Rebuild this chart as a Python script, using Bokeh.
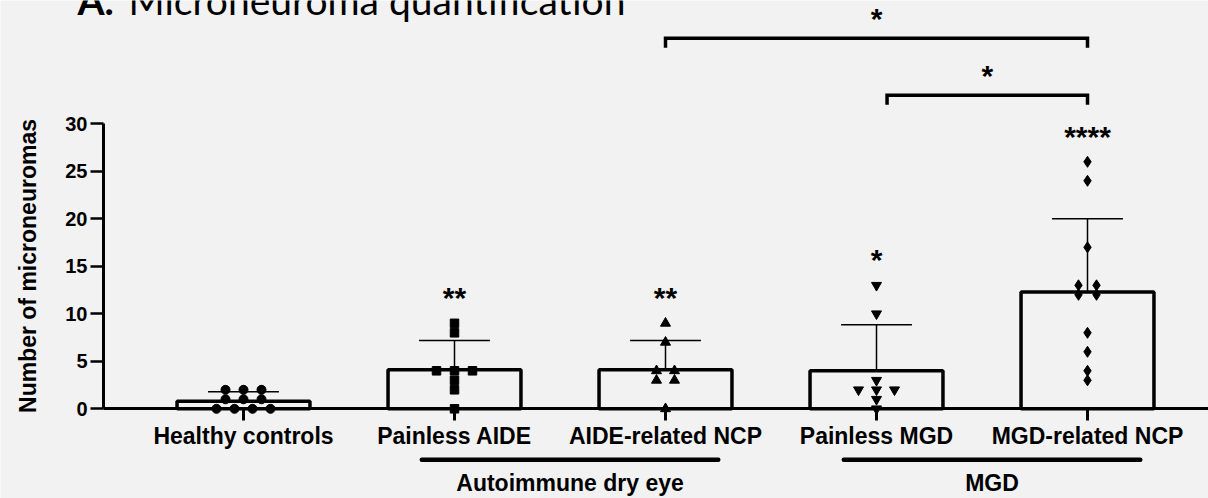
from bokeh.plotting import figure
from bokeh.models import FixedTicker, Label, GlobalInlineStyleSheet
from bokeh.embed import file_html
from bokeh.resources import INLINE
from bokeh.core.properties import value

# ---------------- data ----------------
categories = ["Healthy controls", "Painless AIDE", "AIDE-related NCP",
              "Painless MGD", "MGD-related NCP"]
means = [0.8, 4.1, 4.1, 4.0, 12.3]
sd = [1.0, 3.1, 3.1, 4.85, 7.7]
healthy_controls = [2, 2, 2, 1, 1, 1, 0, 0, 0, 0]
painless_aide = [9, 8, 4, 4, 4, 3, 2, 0]
aide_related_ncp = [9, 7, 4, 4, 3, 3, 0]
painless_mgd = [13, 10, 3, 2, 2, 2, 1, 0]
mgd_related_ncp = [26, 24, 17, 13, 13, 12, 12, 8, 6, 4, 3]
points = [healthy_controls, painless_aide, aide_related_ncp, painless_mgd, mgd_related_ncp]
markers = ["circle", "square", "triangle", "inverted_triangle", "diamond"]
stars = ["", "**", "**", "*", "****"]
groups = ["Autoimmune dry eye", "MGD"]
group_members = [[2, 3], [4, 5]]
comparisons = [(3, 5, "*"), (4, 5, "*")]
y_ticks = [0, 5, 10, 15, 20, 25, 30]

# ---------------- layout constants (pixels) ----------------
W, H = 1208, 498
X0_PX, DX_PX = 243.0, 211.0        # pixel of category 1, category spacing
Y0_PX, PPU = 408.3, 9.5            # pixel of y=0, pixels per unit
AXIS_X_PX = 103                     # pixel of the y axis line


def px_x(px):
    return 1 + (px - X0_PX) / DX_PX


def px_y(py):
    return (Y0_PX - py) / PPU


BASE_SHIFT = 0.45                   # text anchor to baseline offset (em)

x_start, x_end = px_x(0), px_x(W)
y_start, y_end = px_y(H), px_y(0)

BG = "#f2f2f2"
FONT = "Liberation Sans"
LABEL_FS = 23

p = figure(width=W, height=H, x_range=(x_start, x_end), y_range=(y_start, y_end),
           output_backend="svg", toolbar_location=None,
           min_border_left=0, min_border_right=0, min_border_top=0,
           min_border_bottom=0)
p.stylesheets = [GlobalInlineStyleSheet(css="html, body { margin: 0 !important; padding: 0; overflow: hidden; }")]
p.background_fill_color = BG
p.border_fill_color = BG
p.outline_line_color = None
p.grid.visible = False

# x axis (at y = 0)
xa = p.xaxis[0]
xa.fixed_location = 0
xa.bounds = (px_x(AXIS_X_PX), x_end)
xa.ticker = FixedTicker(ticks=[1, 2, 3, 4, 5])
xa.major_label_overrides = {i + 1: c for i, c in enumerate(categories)}
xa.axis_line_width = 3
xa.axis_line_color = "black"
xa.major_tick_line_width = 3
xa.major_tick_out = 12
xa.major_tick_in = 0
xa.minor_tick_out = 0
xa.minor_tick_in = 0
xa.major_label_text_font = FONT
xa.major_label_text_font_style = "bold"
xa.major_label_text_font_size = f"{LABEL_FS}px"
xa.major_label_text_color = "black"
xa.major_label_standoff = 2

# y axis
ya = p.yaxis[0]
ya.fixed_location = px_x(AXIS_X_PX)
ya.ticker = FixedTicker(ticks=y_ticks)
ya.bounds = (0, 30)
ya.axis_line_width = 3
ya.major_tick_line_width = 2.5
ya.major_tick_out = 13
ya.major_tick_in = 0
ya.minor_tick_out = 0
ya.minor_tick_in = 0
ya.major_label_text_font = FONT
ya.major_label_text_font_style = "bold"
ya.major_label_text_font_size = "20px"
ya.major_label_text_color = "black"
ya.major_label_standoff = 3
ya.axis_label = "Number of microneuromas"
ya.axis_label_text_font = FONT
ya.axis_label_text_font_style = "bold"
ya.axis_label_text_font_size = "23px"
ya.axis_label_text_color = "black"
ya.axis_label_standoff = 21

xs = [1, 2, 3, 4, 5]

# bars
p.vbar(x=xs, top=means, bottom=0, width=0.63, fill_color=None,
       line_color="black", line_width=3.5)

# error bars (upper SD)
tops = [m + s for m, s in zip(means, sd)]
cap = 0.168
p.segment(x0=xs, y0=means, x1=xs, y1=tops, line_color="black", line_width=1.5)
p.segment(x0=[x - cap for x in xs], y0=tops, x1=[x + cap for x in xs], y1=tops,
          line_color="black", line_width=1.5)

# individual points, spread horizontally when values coincide
spacing = 18.0 / DX_PX
sizes = {"circle": 9, "square": 8.5, "triangle": 10, "inverted_triangle": 10, "diamond": 11}
for x, vals, m in zip(xs, points, markers):
    px, py = [], []
    for v in sorted(set(vals), reverse=True):
        n = vals.count(v)
        for i in range(n):
            px.append(x + (i - (n - 1) / 2) * spacing)
            py.append(v)
    p.scatter(px, py, marker=m, size=sizes[m], color="black")

# significance stars vs controls
STAR_FS = 30
sx, sy, st = [], [], []
for x, vals, s in zip(xs, points, stars):
    if s:
        sx.append(x)
        sy.append(max(vals) + 2.7)
        st.append(s)
p.text(x=sx, y=sy, text=st, text_align="center", text_baseline="alphabetic",
       text_font=value(FONT), text_font_style="bold", text_font_size=f"{STAR_FS}px",
       text_color="black")

# comparison brackets
levels = [39.0, 33.0]
for (a, b, s), lvl in zip(comparisons, levels):
    a2 = a + (0.05 if lvl != levels[0] else 0.0)
    p.line([a2, a2, b, b], [lvl - 1.0, lvl, lvl, lvl - 1.0], line_color="black",
           line_width=3.5, line_join="miter")
    p.text(x=[(a2 + b) / 2], y=[lvl + 2.1], text=[s], text_align="center",
           text_baseline="alphabetic", text_font=value(FONT),
           text_font_style="bold", text_font_size=f"{STAR_FS}px", text_color="black")

# group lines and labels under the axis
g_line_y = px_y(459.3)
g_text_y = px_y(492.5 - BASE_SHIFT * LABEL_FS)
ga, gb, gc, gn = [], [], [], []
for name, mem in zip(groups, group_members):
    a, b = mem[0] - 0.155, mem[-1] + 0.25
    ga.append(a)
    gb.append(b)
    gc.append((a + b) / 2)
    gn.append(name)
p.segment(x0=ga, y0=[g_line_y] * len(ga), x1=gb, y1=[g_line_y] * len(gb),
          line_color="black", line_width=4.5, line_cap="round")
p.text(x=gc, y=[g_text_y] * len(gc), text=gn, text_align="center",
       text_baseline="alphabetic", text_font=value(FONT), text_font_style="bold",
       text_font_size=f"{LABEL_FS}px", text_color="black")

# title (top is cut off in the reference)
TITLE_FS = 39
ty = px_y(17 - BASE_SHIFT * TITLE_FS)
p.add_layout(Label(x=px_x(77), y=ty, text="A.", text_font="Lato",
                   text_font_style="bold", text_font_size=f"{TITLE_FS}px",
                   text_baseline="alphabetic", text_color="black"))
p.add_layout(Label(x=px_x(128), y=ty, text="Microneuroma quantification",
                   text_font="Lato", text_font_size=f"{TITLE_FS}px",
                   text_baseline="alphabetic", text_color="black"))

open("out.html", "w").write(file_html(p, INLINE))
